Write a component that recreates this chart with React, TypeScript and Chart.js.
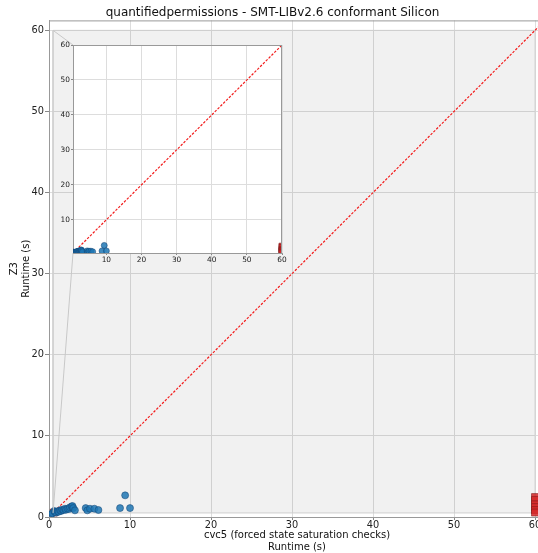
import React, { useEffect, useRef } from "react";
import { Chart, registerables } from "chart.js";

Chart.register(...registerables);

const FONT = "'DejaVu Sans', sans-serif";

const TITLE = "quantifiedpermissions - SMT-LIBv2.6 conformant Silicon";
const X_TITLE = ["cvc5 (forced state saturation checks)", "Runtime (s)"];
const Y_TITLE = ["Z3", "Runtime (s)"];

const MAIN_TICKS = [0, 10, 20, 30, 40, 50, 60];
const INSET_TICKS = [10, 20, 30, 40, 50, 60];
const MAIN_MIN = 0;
const MAIN_MAX = 61.23;
const ZOOM_MIN = 0.5;
const ZOOM_MAX = 60;

// both solvers finished (cvc5 runtime, Z3 runtime)
const solvedX = [0.25, 0.41, 0.65, 0.74, 0.9, 1.07, 1.2, 1.36, 1.5, 1.65, 1.8, 1.98, 2.1, 2.3, 2.5, 2.6, 2.8, 2.9, 3.0, 3.2, 4.53, 4.73, 5.06, 5.6, 6.1, 8.77, 9.4, 10.0];
const solvedY = [0.28, 0.46, 0.75, 0.62, 0.55, 0.7, 0.65, 0.82, 0.75, 0.9, 0.85, 1.02, 0.9, 1.02, 1.0, 1.2, 1.3, 1.35, 1.1, 0.82, 1.1, 0.82, 1.02, 1.02, 0.86, 1.1, 2.67, 1.1];

// timeouts / failures
const failX = [60, 60, 60, 60, 60, 60, 0.6];
const failY = [2.45, 2.1, 1.55, 1.2, 0.85, 0.55, 0.55];

const INSET_LEFT = 40;
const INSET_TOP = 36;
const INSET_W = 252;
const INSET_H = 230;

const pts = (xs: number[], ys: number[]) => xs.map((x, i) => ({ x, y: ys[i] }));

const framePlugin = {
  id: "frame",
  afterDraw(chart: any, _a: any, opts: any) {
    const { ctx, chartArea: a } = chart;
    ctx.save();
    ctx.strokeStyle = opts.color || "#999";
    ctx.lineWidth = 1;
    ctx.beginPath();
    ctx.moveTo(a.left, a.top + 0.5);
    ctx.lineTo(a.right, a.top + 0.5);
    ctx.moveTo(a.right - 0.5, a.top);
    ctx.lineTo(a.right - 0.5, a.bottom);
    ctx.stroke();
    ctx.restore();
  },
};

const areaBgPlugin = {
  id: "areaBg",
  beforeDraw(chart: any, _a: any, opts: any) {
    const { ctx, chartArea: a } = chart;
    ctx.save();
    ctx.fillStyle = opts.color || "#fff";
    ctx.fillRect(a.left, a.top, a.right - a.left, a.bottom - a.top);
    ctx.restore();
  },
};

function axis(min: number, max: number, ticks: number[], fontSize: number, tickLen: number, pad: number, fit: (s: any) => void, title?: string[]) {
  return {
    type: "linear",
    min,
    max,
    afterBuildTicks: (s: any) => {
      s.ticks = ticks.map((v) => ({ value: v }));
    },
    afterFit: fit,
    ticks: {
      font: { family: FONT, size: fontSize },
      color: "#222",
      padding: pad,
      autoSkip: false,
      maxRotation: 0,
    },
    grid: {
      color: "#dddddd",
      lineWidth: 1,
      drawTicks: true,
      tickLength: tickLen,
      tickColor: "#888",
    },
    border: { display: true, color: "#999", width: 1 },
    title: title
      ? {
          display: true,
          text: title,
          color: "#111",
          font: { family: FONT, size: 10, lineHeight: 1.15 },
          padding: { top: 9, bottom: 0 },
        }
      : { display: false },
  };
}

export default function App() {
  const mainRef = useRef<HTMLCanvasElement>(null);
  const insetRef = useRef<HTMLCanvasElement>(null);

  useEffect(() => {
    const blueStyle = {
      backgroundColor: "rgba(31,119,180,0.85)",
      borderColor: "rgba(20,70,120,0.9)",
      borderWidth: 0.6,
    };
    const redStyle = {
      backgroundColor: "rgba(214,39,40,0.85)",
      borderColor: "rgba(120,20,20,0.9)",
      borderWidth: 0.6,
      pointStyle: "rect",
    };
    const diagStyle = {
      borderColor: "#f21d1d",
      borderWidth: 1.2,
      borderDash: [2.5, 1.5],
      pointRadius: 0,
      fill: false,
      tension: 0,
    };

    const inset = new Chart(insetRef.current as HTMLCanvasElement, {
      type: "scatter",
      data: {
        datasets: [
          { type: "line", data: [{ x: ZOOM_MIN, y: ZOOM_MIN }, { x: ZOOM_MAX, y: ZOOM_MAX }], ...diagStyle, clip: 0, order: 3 } as any,
          { data: pts(failX, failY), ...redStyle, pointRadius: 4.3, clip: 0, order: 2 } as any,
          { data: pts(solvedX, solvedY), ...blueStyle, pointRadius: 3, clip: 0, order: 1 } as any,
        ],
      },
      options: {
        animation: false,
        responsive: false,
        devicePixelRatio: 1,
        layout: { padding: { left: 0, right: 10, top: 9, bottom: 0 } },
        plugins: {
          legend: { display: false },
          tooltip: { enabled: false },
          frame: { color: "#999" },
          areaBg: { color: "#ffffff" },
        } as any,
        scales: {
          x: axis(ZOOM_MIN, ZOOM_MAX, INSET_TICKS, 7.4, 2, 1, (s: any) => { s.height = 13; }) as any,
          y: axis(ZOOM_MIN, ZOOM_MAX, INSET_TICKS, 7.4, 2, 1, (s: any) => { s.width = 33; }) as any,
        },
      },
      plugins: [framePlugin, areaBgPlugin],
    });

    const connectorPlugin = {
      id: "connectors",
      afterDatasetsDraw(chart: any) {
        const { ctx, scales } = chart;
        const ia = inset.chartArea;
        const x0 = scales.x.getPixelForValue(ZOOM_MIN);
        const yTop = scales.y.getPixelForValue(ZOOM_MAX);
        const yBot = scales.y.getPixelForValue(ZOOM_MIN);
        ctx.save();
        ctx.strokeStyle = "#c8c8c8";
        ctx.lineWidth = 1;
        ctx.beginPath();
        ctx.moveTo(x0, yTop);
        ctx.lineTo(INSET_LEFT + ia.left, INSET_TOP + ia.top);
        ctx.moveTo(x0, yBot);
        ctx.lineTo(INSET_LEFT + ia.left, INSET_TOP + ia.bottom);
        ctx.stroke();
        ctx.restore();
      },
    };

    const main = new Chart(mainRef.current as HTMLCanvasElement, {
      type: "scatter",
      data: {
        datasets: [
          {
            type: "line",
            data: [
              { x: ZOOM_MIN, y: ZOOM_MIN },
              { x: ZOOM_MAX, y: ZOOM_MIN },
              { x: ZOOM_MAX, y: ZOOM_MAX },
              { x: ZOOM_MIN, y: ZOOM_MAX },
              { x: ZOOM_MIN, y: ZOOM_MIN },
            ],
            borderColor: "#cfcfcf",
            borderWidth: 1,
            backgroundColor: "rgba(0,0,0,0.055)",
            fill: "shape",
            pointRadius: 0,
            tension: 0,
            clip: 0,
            order: 10,
          } as any,
          { type: "line", data: [{ x: MAIN_MIN, y: MAIN_MIN }, { x: MAIN_MAX, y: MAIN_MAX }], ...diagStyle, clip: 0, order: 3 } as any,
          { data: pts(failX, failY), ...redStyle, pointRadius: 5, clip: 0, order: 2 } as any,
          { data: pts(solvedX, solvedY), ...blueStyle, pointRadius: 3.5, clip: 0, order: 1 } as any,
        ],
      },
      options: {
        animation: false,
        responsive: false,
        devicePixelRatio: 1,
        layout: { padding: { left: 0, right: 15, top: 0, bottom: 0 } },
        plugins: {
          legend: { display: false },
          tooltip: { enabled: false },
          title: {
            display: true,
            text: TITLE,
            color: "#111",
            font: { family: FONT, size: 12, weight: "normal", lineHeight: 1.2 },
            padding: { top: 6, bottom: 0 },
          },
          frame: { color: "#999" },
        } as any,
        scales: {
          x: axis(MAIN_MIN, MAIN_MAX, MAIN_TICKS, 9.8, 3, 0, (s: any) => { s.height = 36; }, X_TITLE) as any,
          y: axis(MAIN_MIN, MAIN_MAX, MAIN_TICKS, 9.8, 4, 1, (s: any) => { s.width = 49; }, Y_TITLE) as any,
        },
      },
      plugins: [framePlugin, connectorPlugin],
    });

    return () => {
      main.destroy();
      inset.destroy();
    };
  }, []);

  return (
    <div style={{ position: "fixed", left: 0, top: 0, width: 538, height: 553, overflow: "hidden", background: "#fff" }}>
      <canvas ref={mainRef} width={560} height={553} style={{ position: "absolute", left: 0, top: 0, width: 560, height: 553 }} />
      <canvas ref={insetRef} width={INSET_W} height={INSET_H} style={{ position: "absolute", left: INSET_LEFT, top: INSET_TOP, width: INSET_W, height: INSET_H }} />
    </div>
  );
}
